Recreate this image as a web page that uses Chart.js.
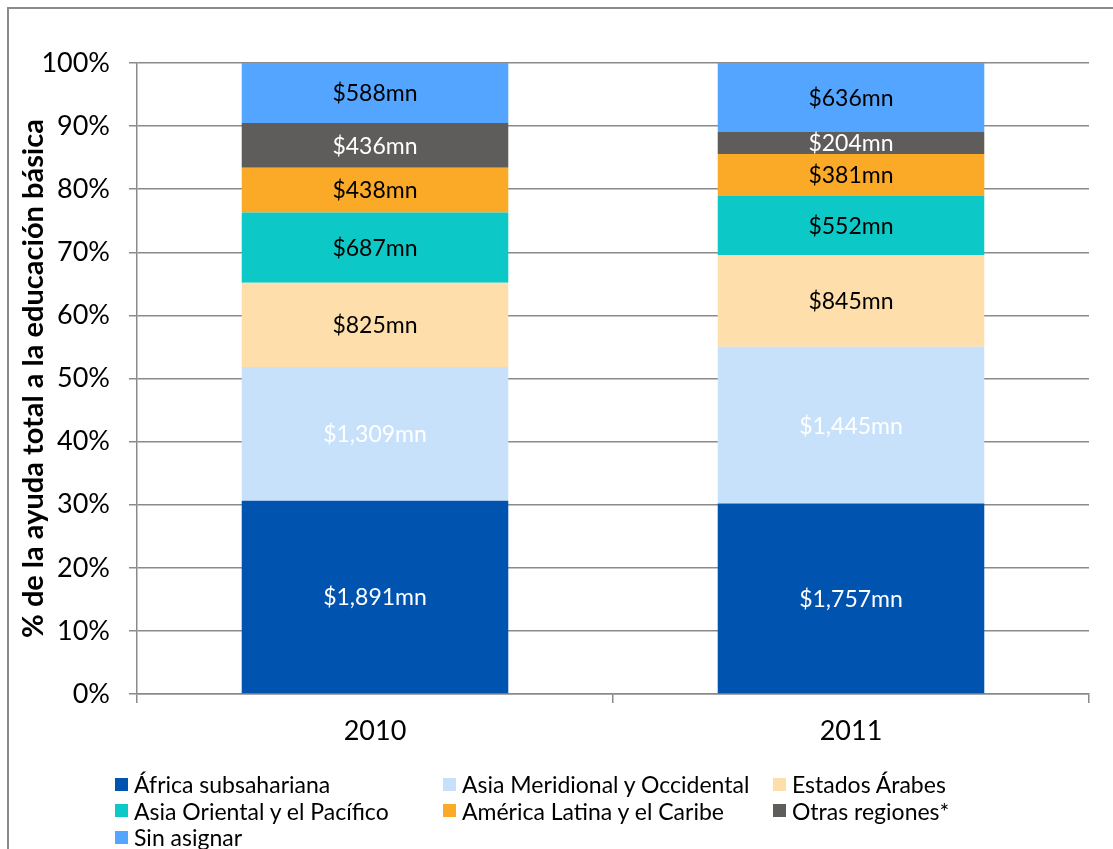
<!DOCTYPE html>
<html lang="es">
<head>
  <meta charset="UTF-8">
  <title>Ayuda a la educación básica por región</title>
  <script src="https://cdn.jsdelivr.net/npm/chart.js"></script>
  <style>
    body {
      margin: 0;
      background: #fff;
      font-family: Lato, 'Noto Sans', sans-serif;
    }
    .wrap {
      position: relative;
      width: 1113px;
      height: 849px;
      overflow: hidden;
    }
    .frame {
      position: absolute;
      left: 7px;
      top: 7px;
      width: 1200px;
      height: 900px;
      border-left: 2px solid #8a8a8a;
      border-top: 2px solid #8a8a8a;
    }
    canvas { position: absolute; left: 0; top: 0; }
    .legend {
      position: absolute;
      left: 115px;
      top: 772px;
      display: grid;
      grid-template-columns: 328px 330px 300px;
      row-gap: 2.5px;
      font-size: 23px;
      color: #000;
    }
    .legend div { display: flex; align-items: center; height: 24px; white-space: nowrap; }
    .legend span.sw { width: 13px; height: 13px; margin-right: 6px; display: inline-block; }
  </style>
</head>
<body>
<div class="wrap">
  <div class="frame"></div>
  <canvas id="chart" width="1113" height="849"></canvas>
  <div class="legend" id="legend"></div>
</div>

<script>
// Datos (millones de USD)
const anios = ['2010', '2011'];
const regiones = ['África subsahariana', 'Asia Meridional y Occidental', 'Estados Árabes',
  'Asia Oriental y el Pacífico', 'América Latina y el Caribe', 'Otras regiones*', 'Sin asignar'];
const africa = [1891, 1757];
const asiaMeridional = [1309, 1445];
const estadosArabes = [825, 845];
const asiaOriental = [687, 552];
const americaLatina = [438, 381];
const otras = [436, 204];
const sinAsignar = [588, 636];
const yTicks = ['0%', '10%', '20%', '30%', '40%', '50%', '60%', '70%', '80%', '90%', '100%'];

const series = [africa, asiaMeridional, estadosArabes, asiaOriental, americaLatina, otras, sinAsignar];
const colores = ['#0153B0', '#C8E1FB', '#FEDFAB', '#0CC9C7', '#FBAA27', '#5F5D5C', '#53A5FF'];
const colorTexto = ['#fff', '#fff', '#000', '#000', '#000', '#fff', '#000'];

const totales = anios.map((_, i) => series.reduce((s, arr) => s + arr[i], 0));

const datasets = series.map((arr, k) => ({
  label: regiones[k],
  data: arr.map((v, i) => v / totales[i] * 100),
  raw: arr,
  backgroundColor: colores[k],
  borderWidth: 0,
  categoryPercentage: 1,
  barPercentage: 0.56
}));

function fmt(v) {
  return '$' + v.toLocaleString('en-US') + 'mn';
}

// etiquetas dentro de cada segmento
const etiquetas = {
  id: 'etiquetas',
  afterDatasetsDraw(chart) {
    const ctx = chart.ctx;
    ctx.save();
    ctx.font = '23px Lato, "Noto Sans", sans-serif';
    ctx.textAlign = 'center';
    ctx.textBaseline = 'middle';
    chart.data.datasets.forEach((ds, k) => {
      chart.getDatasetMeta(k).data.forEach((bar, i) => {
        const mid = (bar.y + bar.base) / 2;
        ctx.fillStyle = colorTexto[k];
        ctx.fillText(fmt(ds.raw[i]), bar.x, mid + 1);
      });
    });
    ctx.restore();
  }
};

new Chart(document.getElementById('chart'), {
  type: 'bar',
  data: { labels: anios, datasets: datasets },
  options: {
    responsive: false,
    animation: false,
    layout: { padding: { left: 8, top: 63, right: 24, bottom: 0 } },
    plugins: {
      legend: { display: false },
      tooltip: { enabled: false }
    },
    scales: {
      x: {
        stacked: true,
        afterFit(scale) { scale.height = 155; },
        grid: {
          drawOnChartArea: false,
          drawTicks: true,
          tickLength: 9,
          color: '#8a8a8a',
          lineWidth: 1.5
        },
        border: { color: '#8a8a8a', width: 1.5 },
        ticks: {
          color: '#000',
          font: { family: 'Lato', size: 27 },
          padding: 12
        }
      },
      y: {
        stacked: true,
        min: 0,
        max: 100,
        afterFit(scale) { scale.width = 129; },
        afterBuildTicks(scale) {
          scale.ticks = yTicks.map((_, i) => ({ value: i * 10 }));
        },
        grid: {
          color: '#8a8a8a',
          lineWidth: 1.5,
          tickLength: 8
        },
        border: { color: '#8a8a8a', width: 1.5 },
        ticks: {
          color: '#000',
          font: { family: 'Lato', size: 27 },
          padding: 19,
          callback: (v, i) => yTicks[i]
        },
        title: {
          display: true,
          text: '% de la ayuda total a la educación básica',
          color: '#000',
          font: { family: 'Lato', size: 29, weight: 'bold' },
          padding: { top: 8, bottom: 0 }
        }
      }
    }
  },
  plugins: [etiquetas]
});

// leyenda HTML
const leg = document.getElementById('legend');
regiones.forEach((r, k) => {
  const d = document.createElement('div');
  d.innerHTML = '<span class="sw" style="background:' + colores[k] + '"></span>' + r;
  leg.appendChild(d);
});
</script>
</body>
</html>
